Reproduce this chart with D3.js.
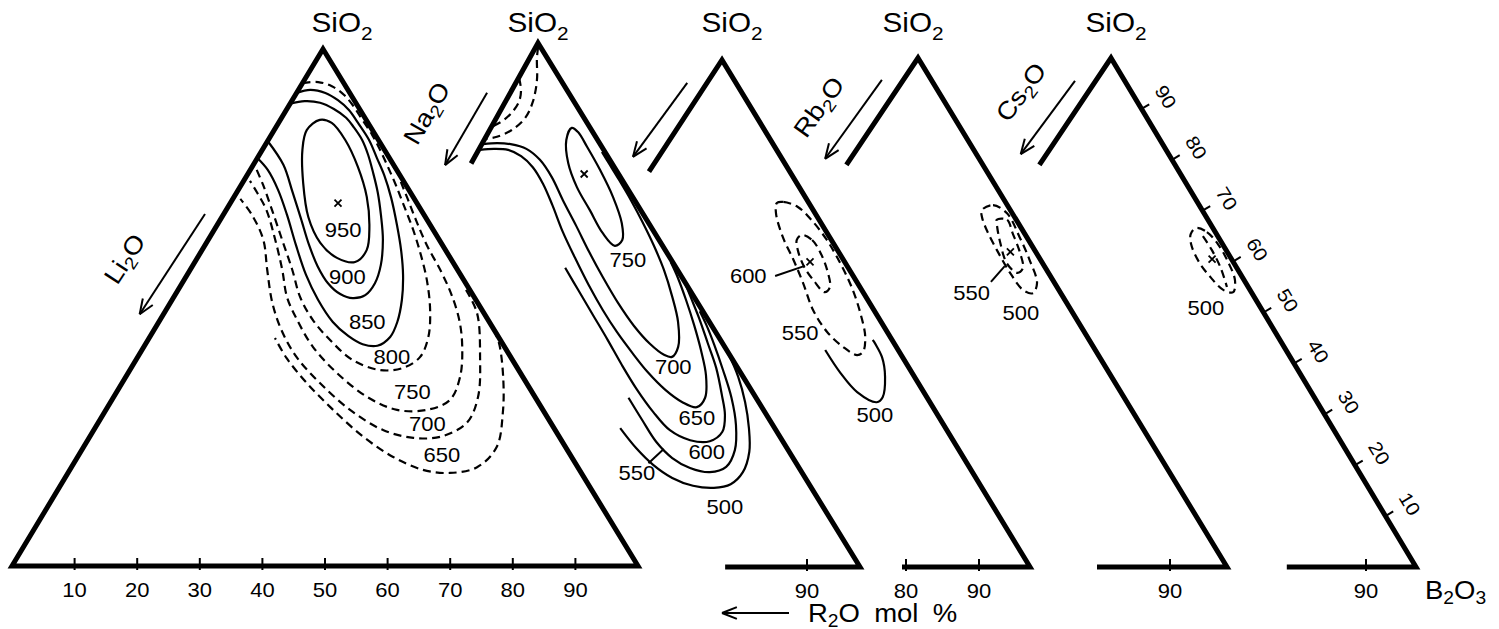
<!DOCTYPE html>
<html>
<head>
<meta charset="utf-8">
<script src="https://cdn.jsdelivr.net/npm/d3@7"></script>
<style>
  body { margin: 0; background: #fff; }
  text { font-family: "Liberation Sans", Arial, Helvetica, sans-serif; fill: #000; }
</style>
</head>
<body>
<svg id="chart" width="1499" height="629"></svg>
<script>
// isotherm points are [B2O3 mol%, SiO2 mol%], R2O is the remainder

// ---- Li2O - B2O3 - SiO2 ----
const li950 = [[6.3,86.3],[5.2,84.3],[6.4,80.5],[9.7,74.1],[13.8,67.5],[18.2,62.5],[22.3,59.6],[25.6,58.8],[26.3,61.1],[24.5,65.6],[21.2,71.4],[16.9,77.2],[12.3,82.4],[8.5,85.7]];
const li900 = [[0,89.4],[2.1,89.9],[4.7,89.6],[7.5,88.4],[10.3,86.7],[12.4,84.9],[15.0,82.4],[17.4,79.5],[19.8,76.2],[22.5,72.3],[25.2,67.9],[27.9,63.1],[30.0,58.2],[30.8,54.7],[30.4,52.4],[28.7,51.8],[26.3,52.6],[23.3,54.7],[20.0,58.0],[16.6,62.1],[12.7,67.3],[8.9,72.3],[4.8,77.6],[0,82.2]];
const li850 = [[0,91.5],[1.9,92.1],[4.6,91.5],[7.3,90.1],[10.0,88.2],[12.7,85.7],[16.1,82.4],[19.1,78.9],[21.9,75.6],[25.2,71.2],[28.7,66.0],[31.8,61.1],[34.5,56.3],[36.7,51.5],[38.1,47.2],[38.4,44.3],[37.2,42.6],[34.7,42.9],[31.6,44.5],[27.8,47.2],[23.3,51.5],[19.0,56.3],[14.5,62.1],[10.2,67.9],[6.4,72.7],[2.8,76.6],[0,78.9]];
const li800 = [[0,93.4],[2.4,93.6],[5.0,92.8],[7.8,91.1],[10.3,89.0],[13.1,86.3],[16.1,83.4],[18.8,80.5],[21.7,77.2],[24.7,73.7],[27.9,69.8],[31.8,65.0],[35.4,60.2],[38.8,55.3],[42.2,49.5],[44.5,44.3],[45.1,40.4],[43.4,38.3],[40.0,37.9],[34.7,39.8],[29.1,43.7],[24.4,47.6],[20.2,52.0],[16.3,57.3],[11.8,63.1],[7.3,68.9],[3.5,73.7],[0.7,77.0]];
const li750 = [[25.2,74.3],[28.1,70.8],[31.3,66.9],[35.4,62.1],[40.3,56.9],[44.2,52.4],[47.8,47.6],[50.7,42.7],[53.4,36.6],[54.0,32.1],[51.3,30.2],[46.5,30.2],[40.5,32.7],[33.4,37.3],[27.0,42.4],[21.9,47.6],[18.1,52.0],[14.7,57.3],[10.7,63.1],[6.4,68.9],[3.3,72.2],[1.0,74.5]];
const li700 = [[46.0,53.4],[50.0,48.9],[54.7,40.4],[58.2,32.7],[58.9,27.7],[56.0,25.0],[51.8,24.8],[46.2,26.3],[39.0,30.2],[31.6,35.4],[25.4,40.4],[20.4,45.6],[16.3,50.9],[12.3,57.3],[8.8,63.1],[4.6,67.9],[1.2,71.0]];
const li650 = [[54.3,45.7],[56.6,42.8],[60.6,36.0],[63.7,29.6],[66.0,23.0],[64.8,19.1],[61.0,18.0],[56.4,18.6],[50.4,21.1],[43.7,25.0],[36.3,30.2],[29.5,35.4],[23.9,40.2],[20.1,44.1]];
const liLabels = [[950,20.6,65.0],[900,25.8,55.9],[850,33.3,47.2],[800,40.6,40.4],[750,47.2,33.7],[700,52.7,27.5],[650,58.0,21.5]];
const liMax = [[17.2,70.2]];

// ---- Na2O ----
const na750 = [[13.2,83.8],[13.4,81.5],[15.8,77.1],[19.4,72.5],[23.6,68.1],[27.8,63.7],[30.9,61.3],[31.6,62.4],[30.0,65.6],[26.2,70.6],[21.6,75.8],[17.4,80.2],[14.6,83.0]];
const na700 = [[0.2,80.7],[2.4,80.9],[4.7,80.7],[7.7,79.8],[10.9,77.7],[14.4,74.4],[18.3,70.0],[22.8,65.1],[27.3,60.1],[31.9,55.2],[36.6,50.4],[41.3,46.0],[45.5,42.6],[48.8,40.5],[50.3,40.1],[50.4,42.0],[48.1,46.8],[44.8,51.7],[41.1,56.7],[37.2,61.4],[33.3,65.8],[29.4,70.0],[25.6,73.9],[22.4,77.1],[20.3,79.2]];
const na650 = [[0.2,79.6],[2.4,79.8],[4.8,79.6],[7.5,78.4],[10.4,76.3],[13.6,73.1],[17.0,69.1],[21.2,63.9],[25.5,59.0],[30.2,53.8],[34.8,49.0],[39.1,44.8],[43.3,41.0],[47.7,37.2],[52.2,33.8],[56.0,31.5],[58.9,30.5],[59.4,32.3],[57.5,36.6],[54.4,41.4],[51.0,46.2],[47.4,51.0],[44.0,55.3],[41.5,58.2]];
const na600 = [[24.8,57.1],[28.9,52.9],[33.6,48.1],[38.3,43.3],[42.9,38.5],[47.6,33.8],[52.2,29.6],[56.6,26.1],[60.8,24.2],[64.1,24.0],[65.3,25.8],[64.2,29.0],[61.9,32.8],[58.5,38.0],[54.9,42.7],[51.2,47.5],[48.1,51.3],[45.4,54.6]];
const na550 = [[46.9,32.3],[51.1,28.1],[55.4,23.9],[59.5,20.8],[63.3,18.9],[66.9,18.1],[69.1,19.1],[69.0,22.3],[66.9,27.1],[63.7,32.3],[59.8,37.6],[56.1,42.4],[53.0,46.2],[50.7,48.8]];
const na500 = [[48.3,26.5],[52.7,22.7],[57.0,19.5],[61.3,17.0],[65.4,15.5],[69.0,15.1],[71.4,15.8],[72.3,18.1],[71.5,22.0],[69.3,26.5],[66.3,31.5],[62.9,36.3],[59.3,40.6],[56.8,43.3],[55.1,44.7]];
const naApexA = [[0.4,99.2],[1.2,97.1],[3.2,92.9],[4.5,88.7],[4.7,85.7],[3.6,83.4],[1.8,82.1],[0.2,81.7]];
const naApexB = [[0.1,93.3],[1.5,91.0],[2.2,88.9],[2.1,87.0],[1.4,85.3],[0.1,84.0]];
const naLabels = [[750,34.3,58.6],[700,51.4,38.2],[650,59.9,28.4],[600,64.6,21.9],[550,55.1,17.9],[500,72.5,11.5]];
const naMax = [[19.4,75.0]];
const naLeader = [[56.1,19.8],[57.3,22.5]];

// ---- K2O ----
const k550 = [[23.2,71.8],[24.1,72.0],[26.9,71.0],[30.4,68.4],[34.8,64.5],[39.2,60.0],[43.5,55.2],[47.5,50.1],[50.7,45.4],[51.9,42.4],[51.3,41.8],[48.3,43.4],[44.2,46.4],[39.8,50.7],[35.5,56.0],[31.6,60.6],[27.6,65.1],[24.1,69.8]];
const k600 = [[30.4,65.5],[32.5,64.5],[35.0,62.1],[37.9,58.6],[40.1,55.2],[39.8,54.2],[37.0,56.4],[34.0,59.2],[31.3,62.5],[30.1,64.5]];
const k500 = [[45.8,42.8],[50.5,38.3],[55.1,34.5],[59.2,32.5],[59.6,33.5],[57.9,37.5],[55.4,41.4],[52.2,44.8]];
const kLabels = [[600,26.2,57.4],[550,40.1,46.2],[500,60.2,30.0]];
const kMax = [[34.4,60.2]];
const kLeader = [[30.4,57.4],[34.0,59.4]];

// ---- Rb2O ----
const rb500 = [[25.5,70.1],[26.7,71.1],[29.7,69.5],[34.1,64.8],[38.0,60.3],[41.5,55.8],[41.9,53.8],[40.1,54.4],[36.3,57.8],[31.9,62.3],[28.3,66.2],[26.2,68.8]];
const rb550 = [[28.8,68.2],[30.4,68.2],[32.6,65.6],[35.8,61.7],[37.8,58.7],[37.4,57.8],[34.8,59.7],[31.7,63.7],[29.6,66.8]];
const rbLabels = [[550,32.5,53.8],[500,42.1,49.9]];
const rbMax = [[34.2,61.9]];
const rbLeader = [[34.3,56.0],[34.8,59.1]];

// ---- Cs2O ----
const cs500 = [[30.8,66.6],[32.9,65.8],[36.0,63.3],[39.3,59.9],[42.2,56.4],[43.2,54.0],[41.5,54.4],[38.3,56.8],[34.8,59.9],[31.8,63.3],[30.6,65.4]];
const csInner = [[32.7,65.0],[35.5,62.3],[38.8,58.7],[41.7,55.0]];
const csLabels = [[500,40.6,50.9]];
const csMax = [[36.5,60.5]];

// axes
const alkali = ["Li2O", "Na2O", "", "Rb2O", "Cs2O"];
const alkaliArrows = [
  [[-3.0,68.1],[-3.8,48.7],[-11.5,59.4]],
  [[-3.8,90.5],[-4.1,76.7],[-11.8,86.6]],
  [[-3.1,95.5],[-4.0,80.9],null],
  [[-3.3,95.7],[-3.9,80.2],[-10.2,90.4]],
  [[-3.2,95.5],[-4.0,81.1],[-10.4,93.3]]
];
const baseTicks = [[10,20,30,40,50,60,70,80,90],[90],[80,90],[90],[90]];
const silicaTicks = [10,20,30,40,50,60,70,80,90];

const diagrams = [
  {iso: [{pts: li950, closed: true}, {pts: li900}, {pts: li850}, {pts: li800, dash: true},
         {pts: li750, dash: true}, {pts: li700, dash: true}, {pts: li650, dash: true}],
   labels: liLabels, max: liMax, leaders: []},
  {iso: [{pts: na750, closed: true}, {pts: na700}, {pts: na650}, {pts: na600}, {pts: na550}, {pts: na500},
         {pts: naApexA, dash: true}, {pts: naApexB, dash: true}],
   labels: naLabels, max: naMax, leaders: [naLeader]},
  {iso: [{pts: k550, closed: true, dash: true}, {pts: k600, closed: true, dash: true}, {pts: k500}],
   labels: kLabels, max: kMax, leaders: [kLeader]},
  {iso: [{pts: rb500, closed: true, dash: true}, {pts: rb550, closed: true, dash: true}],
   labels: rbLabels, max: rbMax, leaders: [rbLeader]},
  {iso: [{pts: cs500, closed: true, dash: true}, {pts: csInner, dash: true}],
   labels: csLabels, max: csMax, leaders: []}
];

// layout of the five triangles (pixels)
const frames = [
  {apex: [323,49],  left: [12,566],  right: [638,566],  cut: null, baseFrom: 0,  siDx: 19,
   axis: {domain: [0,100], range: [12,638]}},
  {apex: [538,43],  left: [247,567], right: [860,567],  cut: 77,   baseFrom: 78, siDx: 0,
   axis: {domain: [90,100], range: [807,860]}},
  {apex: [722,60],  left: [390,567], right: [1030,567], cut: 78,   baseFrom: 80, siDx: 10,
   axis: {domain: [80,90], range: [906,979]}},
  {apex: [918,58],  left: [577,567], right: [1227,567], cut: 79,   baseFrom: 80, siDx: -5,
   axis: {domain: [90,100], range: [1170,1227]}},
  {apex: [1111,58], left: [770,567], right: [1416,567], cut: 79,   baseFrom: 80, siDx: 5,
   axis: {domain: [90,100], range: [1366,1416]}}
];

const svg = d3.select("#chart");
const open = d3.line().curve(d3.curveCatmullRom.alpha(0.5));
const closed = d3.line().curve(d3.curveCatmullRomClosed.alpha(0.5));
const straight = d3.line();

function addText(g, x, y, str, opt) {
  const o = Object.assign({size: 20, rot: 0, anchor: "middle", base: "central", sub: false}, opt);
  const t = g.append("text")
    .attr("transform", `translate(${x},${y}) rotate(${o.rot}) scale(1.1,1)`)
    .attr("text-anchor", o.anchor)
    .attr("font-size", o.size);
  if (o.base) t.attr("dominant-baseline", o.base);
  if (!o.sub) { t.text(str); return t; }
  let low = false;
  str.split(/(\d+)/).filter(p => p).forEach(p => {
    const isNum = /^\d+$/.test(p);
    const ts = t.append("tspan").text(p);
    if (isNum && !low) { ts.attr("font-size", o.size * 0.7).attr("dy", o.size * 0.28); low = true; }
    else if (!isNum && low) { ts.attr("dy", -o.size * 0.28); low = false; }
  });
  return t;
}

frames.forEach((f, i) => {
  const g = svg.append("g");
  const bx = d3.scaleLinear().domain([0,100]).range([f.left[0], f.right[0]]);
  const sx = d3.scaleLinear().domain([0,100]).range([0, f.apex[0] - f.left[0]]);
  const sy = d3.scaleLinear().domain([0,100]).range([f.left[1], f.apex[1]]);
  const proj = ([b, s]) => [bx(b) + sx(s), sy(s)];
  const baseY = f.left[1];

  // frame
  const outline = f.cut === null
    ? [[0,0],[0,100],[100,0],[0,0]]
    : [[0,f.cut],[0,100],[100,0],[f.baseFrom,0]];
  g.append("path")
    .attr("d", straight(outline.map(proj)) + (f.cut === null ? "Z" : ""))
    .attr("fill", "none").attr("stroke", "#000").attr("stroke-width", 5)
    .attr("stroke-linejoin", "miter").attr("stroke-miterlimit", 10);

  // base ticks
  const ax = d3.scaleLinear().domain(f.axis.domain).range(f.axis.range);
  baseTicks[i].forEach(v => {
    g.append("line").attr("x1", ax(v)).attr("x2", ax(v))
      .attr("y1", baseY - 8).attr("y2", baseY + 4)
      .attr("stroke", "#000").attr("stroke-width", 2);
    addText(g, ax(v), baseY + 24, String(v), {size: 20});
  });

  // apex label
  const ap = proj([0,100]);
  addText(g, ap[0] + f.siDx, 32, "SiO2", {size: 27, sub: true, base: null});

  // alkali arrow
  const [a0, a1, lab] = alkaliArrows[i];
  const p0 = proj(a0), p1 = proj(a1);
  g.append("line").attr("x1", p0[0]).attr("y1", p0[1]).attr("x2", p1[0]).attr("y2", p1[1])
    .attr("stroke", "#000").attr("stroke-width", 2);
  const ang = Math.atan2(p0[1] - p1[1], p0[0] - p1[0]);
  [-0.38, 0.38].forEach(da => {
    g.append("line").attr("x1", p1[0]).attr("y1", p1[1])
      .attr("x2", p1[0] + 16 * Math.cos(ang + da)).attr("y2", p1[1] + 16 * Math.sin(ang + da))
      .attr("stroke", "#000").attr("stroke-width", 2);
  });
  if (lab && alkali[i]) {
    const lp = proj(lab);
    addText(g, lp[0], lp[1], alkali[i], {size: 25, sub: true, rot: ang * 180 / Math.PI});
  }

  // isotherms
  const d = diagrams[i];
  d.iso.forEach(c => {
    g.append("path")
      .attr("d", (c.closed ? closed : open)(c.pts.map(proj)))
      .attr("fill", "none").attr("stroke", "#000").attr("stroke-width", 2.2)
      .attr("stroke-dasharray", c.dash ? "8,5" : null);
  });
  d.leaders.forEach(l => {
    g.append("path").attr("d", straight(l.map(proj)))
      .attr("stroke", "#000").attr("stroke-width", 2);
  });
  d.max.forEach(m => {
    const [x, y] = proj(m);
    g.append("path").attr("d", `M${x-3.5},${y-3.5}L${x+3.5},${y+3.5}M${x-3.5},${y+3.5}L${x+3.5},${y-3.5}`)
      .attr("stroke", "#000").attr("stroke-width", 1.8);
  });
  d.labels.forEach(([t, b, s]) => {
    const [x, y] = proj([b, s]);
    addText(g, x, y, String(t), {size: 20});
  });

  // silica scale on the last triangle
  if (i === frames.length - 1) {
    const A = proj([0,100]), R = proj([100,0]);
    const len = Math.hypot(R[0] - A[0], R[1] - A[1]);
    const dx = (R[0] - A[0]) / len, dy = (R[1] - A[1]) / len;
    const nx = dy, ny = -dx;
    silicaTicks.forEach(v => {
      const [x, y] = proj([100 - v, v]);
      g.append("line").attr("x1", x).attr("y1", y).attr("x2", x + 9 * nx).attr("y2", y + 9 * ny)
        .attr("stroke", "#000").attr("stroke-width", 2);
      addText(g, x + 27 * nx + 2 * dx, y + 27 * ny + 2 * dy, String(v),
        {size: 19, rot: Math.atan2(dy, dx) * 180 / Math.PI});
    });
    addText(g, R[0] + 9, baseY + 23, "B2O3", {size: 25, sub: true, anchor: "start"});
  }
});

// common composition axis title
const foot = svg.append("g");
foot.append("line").attr("x1", 789).attr("y1", 613).attr("x2", 722).attr("y2", 613)
  .attr("stroke", "#000").attr("stroke-width", 2);
[-0.38, 0.38].forEach(da => {
  foot.append("line").attr("x1", 722).attr("y1", 613)
    .attr("x2", 722 + 16 * Math.cos(da)).attr("y2", 613 + 16 * Math.sin(da))
    .attr("stroke", "#000").attr("stroke-width", 2);
});
addText(foot, 808, 613, "R2O mol %", {size: 25, sub: true, anchor: "start"})
  .attr("word-spacing", 6);
</script>
</body>
</html>
